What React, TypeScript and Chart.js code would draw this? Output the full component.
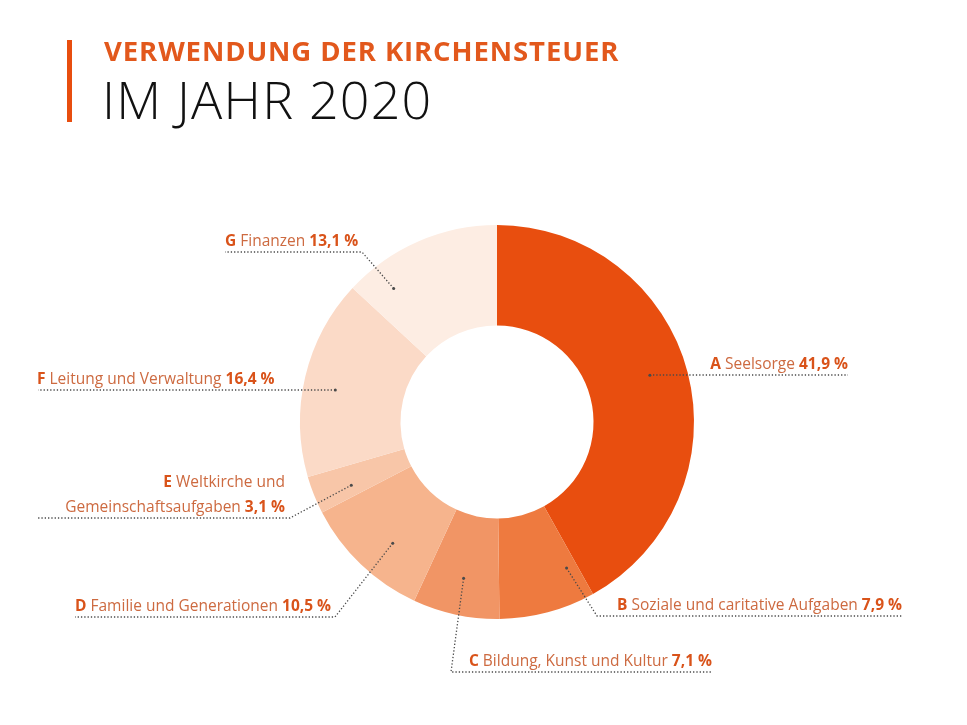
import React, { useEffect, useRef } from "react";
import { Chart, registerables } from "chart.js";

Chart.register(...registerables);

const letters = ["A", "B", "C", "D", "E", "F", "G"];
const categories = [
  "Seelsorge",
  "Soziale und caritative Aufgaben",
  "Bildung, Kunst und Kultur",
  "Familie und Generationen",
  "Weltkirche und Gemeinschaftsaufgaben",
  "Leitung und Verwaltung",
  "Finanzen",
];
const shares = [41.9, 7.9, 7.1, 10.5, 3.1, 16.4, 13.1];
const valueLabels = ["41,9 %", "7,9 %", "7,1 %", "10,5 %", "3,1 %", "16,4 %", "13,1 %"];
const sliceColors = ["#e84e0f", "#ee7a3f", "#f19565", "#f6b48d", "#f8c6a8", "#fbdac7", "#fdede3"];

// Layout of callouts (positions only, not data)
type LabelLayout = {
  frac: number;
  rad: number;
  elbowX: number;
  farX: number;
  lineY: number;
  align: "left" | "right";
  textX: number;
  lines: number;
};
const labelLayout: LabelLayout[] = [
  { frac: 0.484, rad: 0.63, elbowX: 650, farX: 848, lineY: 375, align: "right", textX: 848, lines: 1 },
  { frac: 0.13, rad: 0.65, elbowX: 597, farX: 902, lineY: 616, align: "right", textX: 902, lines: 1 },
  { frac: 0.5, rad: 0.63, elbowX: 451, farX: 712, lineY: 672, align: "right", textX: 712, lines: 1 },
  { frac: 0.42, rad: 0.63, elbowX: 335, farX: 75, lineY: 617, align: "left", textX: 75, lines: 1 },
  { frac: 0.35, rad: 0.62, elbowX: 290, farX: 38, lineY: 518, align: "right", textX: 285, lines: 2 },
  { frac: 0.464, rad: 0.68, elbowX: 335, farX: 38, lineY: 390, align: "left", textX: 37, lines: 1 },
  { frac: 0.2, rad: 0.72, elbowX: 362, farX: 225, lineY: 252, align: "left", textX: 225, lines: 1 },
];

const FONT = "'Open Sans', 'Noto Sans', sans-serif";
const TEXT_COLOR = "#cd6a40";
const BOLD_COLOR = "#d9531a";

const calloutPlugin = {
  id: "callouts",
  afterDatasetsDraw(chart: any) {
    const ctx: CanvasRenderingContext2D = chart.ctx;
    const meta = chart.getDatasetMeta(0);
    meta.data.forEach((arc: any, i: number) => {
      const p = arc.getProps(["x", "y", "startAngle", "endAngle", "innerRadius", "outerRadius"], true);
      const L = labelLayout[i];
      const ang = p.startAngle + (p.endAngle - p.startAngle) * L.frac;
      const r = p.innerRadius + (p.outerRadius - p.innerRadius) * L.rad;
      const ax = p.x + Math.cos(ang) * r;
      const ay = p.y + Math.sin(ang) * r;

      ctx.save();
      ctx.strokeStyle = "#4a4a4a";
      ctx.lineWidth = 1.3;
      ctx.setLineDash([1.3, 2]);
      ctx.beginPath();
      ctx.moveTo(ax, ay);
      ctx.lineTo(L.elbowX, L.lineY);
      ctx.lineTo(L.farX, L.lineY);
      ctx.stroke();
      ctx.setLineDash([]);
      ctx.fillStyle = "#4a4a4a";
      ctx.beginPath();
      ctx.arc(ax, ay, 1.5, 0, Math.PI * 2);
      ctx.fill();

      const size = 15.5;
      const bold = `bold ${size}px ${FONT}`;
      const reg = `${size}px ${FONT}`;
      const drawParts = (parts: { t: string; b: boolean }[], y: number) => {
        const widths = parts.map((pt) => {
          ctx.font = pt.b ? bold : reg;
          return ctx.measureText(pt.t).width;
        });
        const total = widths.reduce((a, b) => a + b, 0);
        let x = L.align === "left" ? L.textX : L.textX - total;
        ctx.textBaseline = "alphabetic";
        ctx.textAlign = "left";
        parts.forEach((pt, k) => {
          ctx.font = pt.b ? bold : reg;
          ctx.fillStyle = pt.b ? BOLD_COLOR : TEXT_COLOR;
          ctx.fillText(pt.t, x, y);
          x += widths[k];
        });
      };
      const baseY = L.lineY - 6.5;
      if (L.lines === 2) {
        const words = categories[i].split(" und ");
        drawParts([{ t: letters[i], b: true }, { t: " " + words[0] + " und", b: false }], baseY - 25);
        drawParts([{ t: words[1] + " ", b: false }, { t: valueLabels[i], b: true }], baseY);
      } else {
        drawParts(
          [
            { t: letters[i], b: true },
            { t: " " + categories[i] + " ", b: false },
            { t: valueLabels[i], b: true },
          ],
          baseY
        );
      }
      ctx.restore();
    });
  },
};

export default function App() {
  const ref = useRef<HTMLCanvasElement>(null);
  useEffect(() => {
    if (!ref.current) return;
    const chart = new Chart(ref.current, {
      type: "doughnut",
      data: {
        labels: categories,
        datasets: [
          {
            data: shares,
            backgroundColor: sliceColors,
            borderWidth: 0,
          },
        ],
      },
      options: {
        animation: false,
        responsive: false,
        cutout: "49%",
        layout: { padding: { left: 300, right: 273, top: 225, bottom: 106 } },
        plugins: {
          legend: { display: false },
          tooltip: { enabled: false },
        },
      },
      plugins: [calloutPlugin],
    });
    return () => chart.destroy();
  }, []);

  return (
    <div style={{ position: "absolute", left: 0, top: 0, width: 967, height: 725, background: "#fff", overflow: "hidden" }}>
      <canvas ref={ref} width={967} height={725} style={{ position: "absolute", left: 0, top: 0 }} />
      <div style={{ position: "absolute", left: 67, top: 40, width: 5, height: 82, background: "#e84e0f" }} />
      <div
        style={{
          position: "absolute",
          left: 104,
          top: 33,
          fontFamily: FONT,
          fontWeight: 700,
          fontSize: 27.5,
          color: "#e2581c",
          lineHeight: "36px",
          whiteSpace: "nowrap",
          letterSpacing: 0.9,
        }}
      >
        VERWENDUNG DER KIRCHENSTEUER
      </div>
      <div
        style={{
          position: "absolute",
          left: 102,
          top: 66,
          fontFamily: FONT,
          fontWeight: 300,
          fontSize: 52,
          color: "#111",
          lineHeight: "66px",
          whiteSpace: "nowrap",
          letterSpacing: 1.2,
        }}
      >
        IM JAHR 2020
      </div>
    </div>
  );
}
